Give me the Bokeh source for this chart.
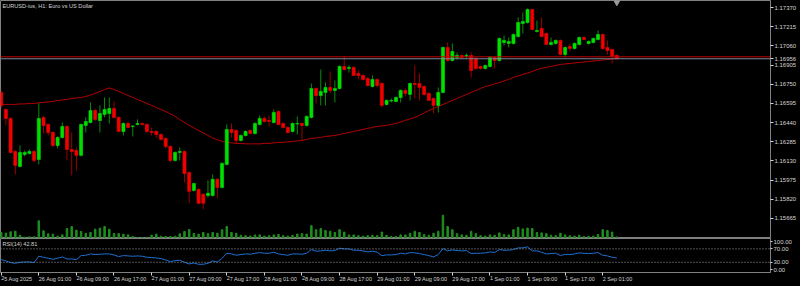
from bokeh.plotting import figure
from bokeh.models import ColumnDataSource, Range1d, FixedTicker, PrintfTickFormatter, Span, Label
from bokeh.layouts import column
from bokeh.embed import file_html
from bokeh.resources import INLINE

# ---------------- data (EURUSD H1) ----------------
title_text = "EURUSD-ius, H1:  Euro vs US Dollar"
rsi_title = "RSI(14)"

open_ = [
    1.16684, 1.16546, 1.16474, 1.16207, 1.16086, 1.16183, 1.16191, 1.16207, 1.16142, 1.16482,
    1.16425, 1.16360, 1.16255, 1.16320, 1.16409, 1.16223, 1.16215, 1.16175, 1.16417, 1.16441,
    1.16538, 1.16457, 1.16506, 1.16514, 1.16554, 1.16482, 1.16368, 1.16433, 1.16409, 1.16425,
    1.16433, 1.16425, 1.16368, 1.16368, 1.16344, 1.16312, 1.16247, 1.16134, 1.16199, 1.16207,
    1.16037, 1.15892, 1.15900, 1.15860, 1.15851, 1.15851, 1.15981, 1.15916, 1.16102, 1.16385,
    1.16377, 1.16296, 1.16336, 1.16377, 1.16352, 1.16425, 1.16474, 1.16457, 1.16441, 1.16530,
    1.16433, 1.16401, 1.16368, 1.16429, 1.16433, 1.16417, 1.16482, 1.16716, 1.16659, 1.16684,
    1.16724, 1.16700, 1.16716, 1.16894, 1.16878, 1.16886, 1.16837, 1.16821, 1.16797, 1.16732,
    1.16789, 1.16756, 1.16587, 1.16615, 1.16611, 1.16643, 1.16700, 1.16668, 1.16756, 1.16756,
    1.16732, 1.16676, 1.16635, 1.16579, 1.16684, 1.17047, 1.16942, 1.16967, 1.16983, 1.16975,
    1.16983, 1.16958, 1.16894, 1.16878, 1.16894, 1.16967, 1.16942, 1.17088, 1.17080, 1.17080,
    1.17136, 1.17241, 1.17249, 1.17354, 1.17177, 1.17201, 1.17160, 1.17071, 1.17080, 1.17104,
    1.16991, 1.17055, 1.17039, 1.17071, 1.17128, 1.17080, 1.17088, 1.17112, 1.17152, 1.17047,
    1.17031, 1.16983,
]
high = [
    1.16700, 1.16554, 1.16482, 1.16215, 1.16255, 1.16215, 1.16223, 1.16215, 1.16595, 1.16490,
    1.16433, 1.16368, 1.16328, 1.16441, 1.16417, 1.16360, 1.16239, 1.16433, 1.16482, 1.16603,
    1.16554, 1.16579, 1.16643, 1.16643, 1.16611, 1.16490, 1.16441, 1.16449, 1.16417, 1.16466,
    1.16441, 1.16433, 1.16401, 1.16377, 1.16352, 1.16320, 1.16255, 1.16207, 1.16239, 1.16215,
    1.16045, 1.15948, 1.15908, 1.15868, 1.15973, 1.16021, 1.15989, 1.16118, 1.16425, 1.16433,
    1.16385, 1.16344, 1.16377, 1.16385, 1.16441, 1.16498, 1.16490, 1.16498, 1.16546, 1.16538,
    1.16441, 1.16409, 1.16441, 1.16490, 1.16441, 1.16498, 1.16756, 1.16724, 1.16869, 1.16764,
    1.16853, 1.16781, 1.16902, 1.16975, 1.16902, 1.16894, 1.16861, 1.16829, 1.16805, 1.16821,
    1.16797, 1.16764, 1.16627, 1.16635, 1.16651, 1.16708, 1.16716, 1.16764, 1.16902, 1.16837,
    1.16740, 1.16684, 1.16643, 1.16724, 1.17055, 1.17088, 1.17080, 1.17007, 1.16991, 1.16999,
    1.17007, 1.16967, 1.16902, 1.16910, 1.16975, 1.16975, 1.17128, 1.17144, 1.17128, 1.17160,
    1.17290, 1.17330, 1.17362, 1.17362, 1.17265, 1.17290, 1.17168, 1.17128, 1.17112, 1.17112,
    1.17055, 1.17080, 1.17088, 1.17136, 1.17136, 1.17104, 1.17128, 1.17185, 1.17160, 1.17104,
    1.17039, 1.16991,
]
low = [
    1.16554, 1.16417, 1.16191, 1.16021, 1.16078, 1.16167, 1.16183, 1.16118, 1.16102, 1.16352,
    1.16336, 1.16239, 1.16231, 1.16312, 1.16134, 1.16013, 1.16053, 1.16167, 1.16360, 1.16433,
    1.16449, 1.16360, 1.16482, 1.16433, 1.16474, 1.16368, 1.16336, 1.16393, 1.16328, 1.16417,
    1.16417, 1.16360, 1.16336, 1.16320, 1.16296, 1.16231, 1.16118, 1.16126, 1.16134, 1.15957,
    1.15787, 1.15884, 1.15779, 1.15738, 1.15835, 1.15843, 1.15827, 1.15908, 1.16094, 1.16320,
    1.16271, 1.16288, 1.16328, 1.16344, 1.16344, 1.16417, 1.16441, 1.16409, 1.16433, 1.16417,
    1.16393, 1.16352, 1.16360, 1.16344, 1.16296, 1.16409, 1.16474, 1.16595, 1.16579, 1.16579,
    1.16676, 1.16603, 1.16708, 1.16861, 1.16845, 1.16821, 1.16789, 1.16781, 1.16732, 1.16724,
    1.16724, 1.16562, 1.16579, 1.16603, 1.16603, 1.16603, 1.16651, 1.16619, 1.16635, 1.16619,
    1.16659, 1.16619, 1.16514, 1.16522, 1.16676, 1.16934, 1.16934, 1.16950, 1.16958, 1.16958,
    1.16805, 1.16869, 1.16869, 1.16869, 1.16886, 1.16878, 1.16934, 1.17063, 1.17047, 1.17071,
    1.17128, 1.17160, 1.17241, 1.17185, 1.17168, 1.17128, 1.17071, 1.17063, 1.17071, 1.16983,
    1.16967, 1.17015, 1.17031, 1.17063, 1.17104, 1.17071, 1.17080, 1.17104, 1.17031, 1.16991,
    1.16918, 1.16950,
]
close = [
    1.16578, 1.16474, 1.16199, 1.16094, 1.16199, 1.16199, 1.16207, 1.16134, 1.16474, 1.16417,
    1.16360, 1.16255, 1.16320, 1.16409, 1.16223, 1.16207, 1.16175, 1.16425, 1.16449, 1.16538,
    1.16466, 1.16514, 1.16546, 1.16554, 1.16482, 1.16368, 1.16433, 1.16401, 1.16413, 1.16433,
    1.16425, 1.16368, 1.16360, 1.16344, 1.16304, 1.16247, 1.16134, 1.16199, 1.16207, 1.16029,
    1.15884, 1.15948, 1.15787, 1.15787, 1.15868, 1.15981, 1.15916, 1.16110, 1.16385, 1.16360,
    1.16296, 1.16336, 1.16368, 1.16352, 1.16433, 1.16474, 1.16449, 1.16449, 1.16522, 1.16425,
    1.16401, 1.16360, 1.16433, 1.16433, 1.16417, 1.16490, 1.16716, 1.16659, 1.16692, 1.16724,
    1.16700, 1.16716, 1.16894, 1.16869, 1.16886, 1.16821, 1.16821, 1.16789, 1.16740, 1.16789,
    1.16740, 1.16579, 1.16619, 1.16619, 1.16643, 1.16700, 1.16676, 1.16756, 1.16748, 1.16724,
    1.16668, 1.16619, 1.16579, 1.16684, 1.17047, 1.16942, 1.17015, 1.16983, 1.16967, 1.16983,
    1.16861, 1.16878, 1.16878, 1.16902, 1.16967, 1.16942, 1.17120, 1.17104, 1.17096, 1.17152,
    1.17249, 1.17257, 1.17354, 1.17193, 1.17185, 1.17136, 1.17071, 1.17088, 1.17104, 1.16991,
    1.17047, 1.17039, 1.17080, 1.17128, 1.17112, 1.17096, 1.17120, 1.17152, 1.17039, 1.17023,
    1.16975, 1.16956,
]
ma = [
    1.16587, 1.16587, 1.16587, 1.16587, 1.16591, 1.16591, 1.16595, 1.16595, 1.16599, 1.16603,
    1.16607, 1.16611, 1.16619, 1.16623, 1.16627, 1.16635, 1.16639, 1.16643, 1.16651, 1.16663,
    1.16676, 1.16692, 1.16708, 1.16720, 1.16708, 1.16692, 1.16676, 1.16659, 1.16643, 1.16627,
    1.16611, 1.16595, 1.16579, 1.16562, 1.16546, 1.16530, 1.16510, 1.16490, 1.16465, 1.16441,
    1.16417, 1.16397, 1.16377, 1.16356, 1.16336, 1.16316, 1.16300, 1.16288, 1.16280, 1.16276,
    1.16272, 1.16272, 1.16268, 1.16268, 1.16268, 1.16268, 1.16272, 1.16272, 1.16276, 1.16280,
    1.16280, 1.16284, 1.16288, 1.16292, 1.16296, 1.16304, 1.16312, 1.16316, 1.16320, 1.16328,
    1.16332, 1.16336, 1.16344, 1.16352, 1.16360, 1.16368, 1.16377, 1.16385, 1.16393, 1.16401,
    1.16409, 1.16413, 1.16417, 1.16425, 1.16433, 1.16445, 1.16457, 1.16470, 1.16482, 1.16498,
    1.16518, 1.16538, 1.16554, 1.16570, 1.16587, 1.16603, 1.16619, 1.16635, 1.16651, 1.16667,
    1.16684, 1.16700, 1.16716, 1.16732, 1.16740, 1.16752, 1.16764, 1.16777, 1.16789, 1.16805,
    1.16817, 1.16829, 1.16841, 1.16853, 1.16869, 1.16878, 1.16886, 1.16894, 1.16902, 1.16910,
    1.16914, 1.16918, 1.16922, 1.16926, 1.16930, 1.16934, 1.16938, 1.16942, 1.16946, 1.16950,
    1.16954, 1.16958,
]
volume = [
    1500, 1330, 1670, 1830, 830, 300, 420, 420, 4420, 1920,
    1170, 1080, 580, 920, 2500, 3000, 2080, 1750, 1250, 1500,
    2330, 2580, 3000, 2330, 1250, 1250, 1080, 920, 500, 250,
    250, 300, 830, 1080, 580, 500, 500, 580, 1170, 1750,
    2250, 1250, 1080, 1500, 1200, 1500, 1300, 2200, 3000, 1500,
    1300, 800, 700, 600, 900, 900, 600, 700, 900, 1000,
    700, 600, 800, 1100, 1200, 1100, 3200, 2200, 2500, 2000,
    1800, 1500, 2200, 1600, 900, 900, 700, 600, 700, 800,
    700, 1600, 800, 500, 500, 900, 900, 1300, 1800, 1500,
    1000, 800, 1300, 1800, 5800, 3000, 2200, 1200, 900, 800,
    1800, 1200, 700, 600, 900, 800, 1400, 1000, 900, 2200,
    2800, 2400, 2600, 2500, 1500, 1400, 1200, 800, 700, 1300,
    900, 700, 600, 800, 500, 500, 600, 1000, 2200, 2000,
    1600, 400,
]
rsi = [
    38, 34, 29, 27, 30, 31, 31, 29, 48, 45,
    42, 39, 42, 46, 40, 40, 38, 50, 51, 55,
    53, 54, 55, 55, 52, 47, 50, 49, 48, 49,
    48, 45, 44, 43, 41, 37, 32, 35, 36, 30,
    25, 28, 24, 24, 27, 34, 31, 42, 57, 55,
    51, 53, 55, 54, 57, 59, 57, 57, 60, 55,
    53, 51, 55, 55, 54, 57, 68, 63, 64, 66,
    64, 65, 72, 70, 70, 66, 66, 64, 61, 63,
    60, 50, 52, 52, 53, 57, 55, 59, 58, 56,
    53, 50, 46, 53, 71, 64, 67, 65, 64, 65,
    56, 57, 57, 58, 61, 59, 68, 66, 66, 68,
    73, 73, 76, 64, 64, 60, 55, 56, 57, 50,
    54, 53, 55, 58, 57, 56, 57, 59, 51, 49,
    45, 42.81,
]
ask_price = 1.16972
price_ticks = [1.17370, 1.17215, 1.17060, 1.16905, 1.16750, 1.16595, 1.16440,
               1.16285, 1.16130, 1.15975, 1.15820, 1.15665]
rsi_levels = [30, 70]
rsi_scale_labels = {8: "0.00", 30: "30.00", 70: "70.00", 92: "100.00"}
time_bars = [0, 8, 16, 24, 32, 40, 48, 56, 64, 72, 80, 88, 96, 104, 112, 120, 128]
time_labels = ["25 Aug 2025", "26 Aug 01:00", "26 Aug 09:00", "26 Aug 17:00",
               "27 Aug 01:00", "27 Aug 09:00", "27 Aug 17:00", "28 Aug 01:00",
               "28 Aug 09:00", "28 Aug 17:00", "29 Aug 01:00", "29 Aug 09:00",
               "29 Aug 17:00", "1 Sep 01:00", "1 Sep 09:00", "1 Sep 17:00", "2 Sep 01:00"]

# ---------------- styling ----------------
BG = "#000000"
FG = "#D4D4D4"
FRAME = "#808080"
FONT = "Liberation Sans"
FS = "6px"
FS_TITLE = "5.6px"
BULL_BODY, BULL_WICK = "#00E000", "#0A8C0A"
BEAR_BODY, BEAR_WICK = "#F00000", "#9A0000"

n = len(close)
xs = list(range(n))
x_range = Range1d(-0.15, 163.7)
price_range = Range1d(1.15503, 1.17427)

def src(flag):
    ids = [i for i in xs if (close[i] >= open_[i]) == flag]
    return ColumnDataSource(dict(
        x=ids,
        high=[high[i] for i in ids], low=[low[i] for i in ids],
        top=[max(open_[i], close[i]) for i in ids],
        bottom=[min(open_[i], close[i]) for i in ids],
    ))

def style_axis(ax):
    ax.axis_line_color = FRAME
    ax.major_tick_line_color = FG
    ax.major_tick_out = 3
    ax.major_tick_in = 0
    ax.minor_tick_out = 0
    ax.minor_tick_in = 0
    ax.major_label_standoff = 1
    ax.major_label_text_font = FONT
    ax.major_label_text_font_size = FS
    ax.major_label_text_color = FG

# ---------------- main price panel ----------------
p1 = figure(frame_width=770, frame_height=238, x_range=x_range,
            y_range=price_range, output_backend="svg", toolbar_location=None,
            x_axis_location=None, y_axis_location="right",
            background_fill_color=BG, border_fill_color=BG, outline_line_color=FRAME,
            min_border_left=0, min_border_right=30, min_border_top=0, min_border_bottom=0)
p1.grid.visible = False
p1.extra_y_ranges = {"vol": Range1d(0, 59500)}
p1.yaxis.ticker = FixedTicker(ticks=price_ticks + [close[-1]])
p1.yaxis.formatter = PrintfTickFormatter(format="%.5f")
style_axis(p1.yaxis[0])

p1.vbar(x=xs, top=volume, bottom=0, width=0.32, color="#1F8F1F", y_range_name="vol")
p1.line(xs, ma, color="#B40000", line_width=1)

up, dn = src(True), src(False)
p1.segment(x0="x", y0="low", x1="x", y1="high", source=up, color=BULL_WICK, line_width=1)
p1.segment(x0="x", y0="low", x1="x", y1="high", source=dn, color=BEAR_WICK, line_width=1)
p1.vbar(x="x", top="top", bottom="bottom", width=0.66, source=up,
        fill_color=BULL_BODY, line_color=BULL_BODY, line_width=0.6)
p1.vbar(x="x", top="top", bottom="bottom", width=0.66, source=dn,
        fill_color=BEAR_BODY, line_color=BEAR_BODY, line_width=0.6)

p1.add_layout(Span(location=ask_price, dimension="width", line_color="#C00000", line_width=1))
p1.add_layout(Span(location=close[-1], dimension="width", line_color="#778899", line_width=1))

# chart-shift marker above the last bar
p1.scatter(x=[xs[-1]], y=[price_range.end], marker="inverted_triangle", size=9,
           fill_color="#9A9A9A", line_color="#9A9A9A")

p1.add_layout(Label(x=x_range.start, y=price_range.end, x_offset=2, y_offset=-2, text=title_text,
                    text_font=FONT, text_font_size=FS_TITLE, text_color=FG, text_baseline="top"))

# ---------------- RSI panel ----------------
p2 = figure(frame_width=770, frame_height=34, x_range=x_range, y_range=Range1d(-0.5, 101),
            output_backend="svg", toolbar_location=None, y_axis_location="right",
            background_fill_color=BG, border_fill_color=BG, outline_line_color=FRAME,
            min_border_left=0, min_border_right=30, min_border_top=0, min_border_bottom=14)
p2.grid.visible = False
p2.yaxis.ticker = FixedTicker(ticks=list(rsi_scale_labels.keys()))
p2.yaxis.major_label_overrides = rsi_scale_labels
style_axis(p2.yaxis[0])
p2.yaxis.major_tick_out = 2
p2.xaxis.ticker = FixedTicker(ticks=time_bars)
p2.xaxis.major_label_overrides = {b: t for b, t in zip(time_bars, time_labels)}
style_axis(p2.xaxis[0])
p2.xaxis.major_label_text_font_size = "5.5px"
p2.xaxis.major_label_orientation = -0.0001
p2.xaxis.major_label_standoff = 3

for lv in rsi_levels:
    p2.add_layout(Span(location=lv, dimension="width", line_color="#A0A0A0",
                       line_dash="1 2", line_width=1))
p2.line(xs, rsi, color="#1E6FD0", line_width=1)
p2.add_layout(Label(x=x_range.start, y=101, x_offset=2, y_offset=-2,
                    text=f"{rsi_title} {rsi[-1]:.2f}", text_font=FONT, text_font_size=FS_TITLE,
                    text_color=FG, text_baseline="top"))

layout = column(p1, p2, spacing=0, styles={"background-color": "#000000"})
open("out.html", "w").write(file_html(layout, INLINE))
